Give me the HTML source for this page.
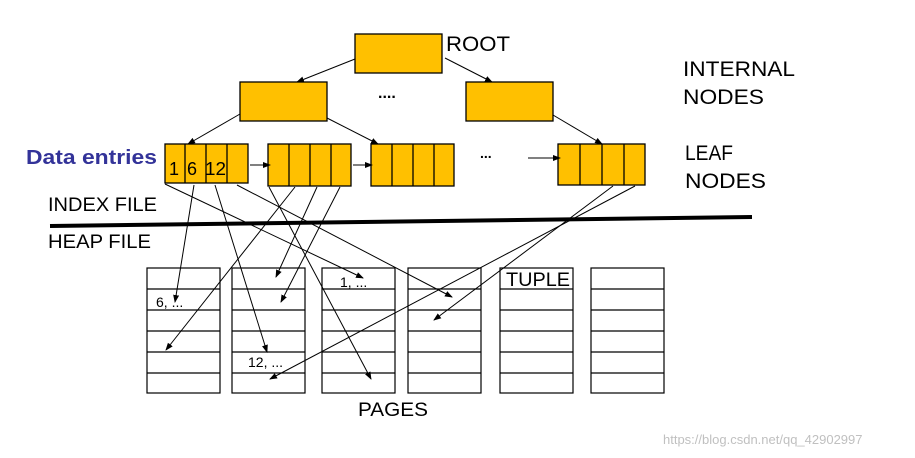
<!DOCTYPE html>
<html><head><meta charset="utf-8"><style>
body{margin:0;background:#fff;}
svg{display:block;font-family:"Liberation Sans",sans-serif;}
</style></head><body>
<svg width="915" height="458" viewBox="0 0 915 458" xmlns="http://www.w3.org/2000/svg">
<defs><marker id="a" markerWidth="8" markerHeight="8" refX="7" refY="3" orient="auto" markerUnits="userSpaceOnUse"><path d="M0,0 L8,3 L0,6 z" fill="#000"/></marker></defs>
<g fill="#FFC000" stroke="#000" stroke-width="1.3">
<rect x="355" y="34" width="87" height="39"/>
<rect x="240" y="82" width="87" height="39"/>
<rect x="466" y="82" width="87" height="39"/>
<rect x="165" y="144" width="83" height="39"/>
<rect x="268" y="144" width="83" height="42"/>
<rect x="371" y="144" width="83" height="42"/>
<rect x="558" y="144" width="87" height="41"/>
</g>
<g stroke="#000" stroke-width="1.3">
<line x1="185" y1="144" x2="185" y2="183"/><line x1="206" y1="144" x2="206" y2="183"/><line x1="227" y1="144" x2="227" y2="183"/>
<line x1="289" y1="144" x2="289" y2="186"/><line x1="310" y1="144" x2="310" y2="186"/><line x1="331" y1="144" x2="331" y2="186"/>
<line x1="392" y1="144" x2="392" y2="186"/><line x1="413" y1="144" x2="413" y2="186"/><line x1="434" y1="144" x2="434" y2="186"/>
<line x1="580" y1="144" x2="580" y2="185"/><line x1="602" y1="144" x2="602" y2="185"/><line x1="624" y1="144" x2="624" y2="185"/>
</g>
<g stroke="#000" stroke-width="1" marker-end="url(#a)" fill="none">
<line x1="355" y1="59" x2="297" y2="82"/>
<line x1="445" y1="58" x2="492" y2="82"/>
<line x1="240" y1="114" x2="188" y2="144"/>
<line x1="327" y1="118" x2="378" y2="144"/>
<line x1="553" y1="115" x2="602" y2="144"/>
<line x1="250" y1="165" x2="270" y2="165"/>
<line x1="353" y1="165" x2="372" y2="165"/>
<line x1="528" y1="158" x2="560" y2="158"/>
<line x1="165" y1="184" x2="363" y2="278"/>
<line x1="194" y1="185" x2="175" y2="302"/>
<line x1="215" y1="185" x2="267" y2="352"/>
<line x1="237" y1="185" x2="452" y2="297"/>
<line x1="269" y1="187" x2="371" y2="379"/>
<line x1="295" y1="187" x2="166" y2="350"/>
<line x1="317" y1="187" x2="276" y2="277"/>
<line x1="340" y1="187" x2="281" y2="302"/>
<line x1="613" y1="186" x2="434" y2="320"/>
<line x1="635" y1="186" x2="270" y2="379"/>
</g>
<line x1="50" y1="226" x2="752" y2="217" stroke="#000" stroke-width="4"/>
<g fill="none" stroke="#000" stroke-width="1.2">
<g id="pg"><rect x="147" y="268" width="73" height="125"/>
<line x1="147" y1="289" x2="220" y2="289"/><line x1="147" y1="310" x2="220" y2="310"/><line x1="147" y1="331" x2="220" y2="331"/><line x1="147" y1="352" x2="220" y2="352"/><line x1="147" y1="373" x2="220" y2="373"/></g>
<use href="#pg" x="85"/><use href="#pg" x="175"/><use href="#pg" x="261"/><use href="#pg" x="353"/><use href="#pg" x="444"/>
</g>
<g font-size="18" fill="#000">
<text x="169" y="175">1</text><text x="187" y="175">6</text><text x="205" y="175" textLength="21" lengthAdjust="spacingAndGlyphs">12</text>
</g>
<text x="378" y="98" font-size="16" font-weight="bold">....</text>
<text x="480" y="158" font-size="14" font-weight="bold">...</text>
<text x="26" y="164" font-size="20" font-weight="bold" fill="#333399" textLength="131" lengthAdjust="spacingAndGlyphs">Data entries</text>
<g font-size="21" fill="#000">
<text x="446" y="51" textLength="64" lengthAdjust="spacingAndGlyphs">ROOT</text>
<text x="683" y="76" textLength="112" lengthAdjust="spacingAndGlyphs">INTERNAL</text><text x="683" y="104" textLength="81" lengthAdjust="spacingAndGlyphs">NODES</text>
<text x="685" y="160" textLength="48" lengthAdjust="spacingAndGlyphs">LEAF</text><text x="685" y="188" textLength="81" lengthAdjust="spacingAndGlyphs">NODES</text>
</g>
<g font-size="19" fill="#000">
<text x="48" y="211" textLength="109" lengthAdjust="spacingAndGlyphs">INDEX FILE</text>
<text x="48" y="248" textLength="103" lengthAdjust="spacingAndGlyphs">HEAP FILE</text>
<text x="358" y="416" textLength="70" lengthAdjust="spacingAndGlyphs">PAGES</text>
<text x="506" y="286" textLength="64" lengthAdjust="spacingAndGlyphs">TUPLE</text>
</g>
<g font-size="14" fill="#000">
<text x="156" y="307">6, ...</text>
<text x="340" y="287">1, ...</text>
<text x="248" y="367">12, ...</text>
</g>
<text x="663" y="444" font-size="13" fill="#c0c0c0">https://blog.csdn.net/qq_42902997</text>
</svg>
</body></html>
